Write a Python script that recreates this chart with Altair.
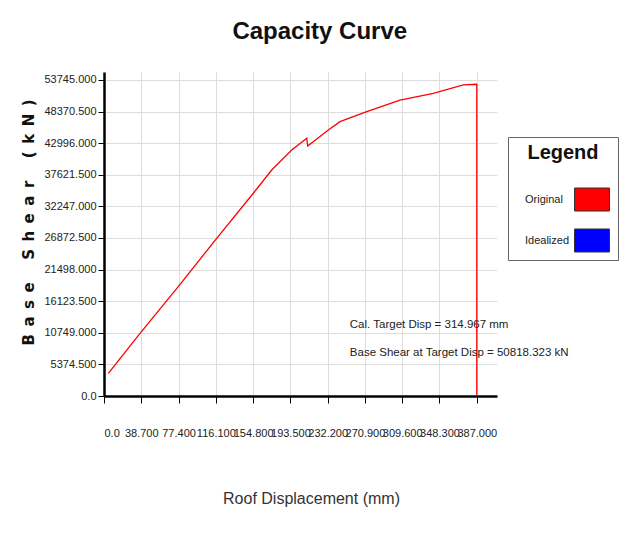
import altair as alt
import pandas as pd

# Capacity curve (Original)
disp = [4.5, 37.4, 77.1, 117.0, 155.0, 174.1, 194.9, 210.5, 211.5, 232.9, 245.0, 272.8, 307.3, 341.9, 373.0, 387.0, 387.0]
shear = [3861, 10664, 18590, 26821, 34475, 38438, 41840, 43830, 42520, 45241, 46652, 48353, 50300, 51483, 52895, 53014, 0]

series_names = ["Original", "Idealized"]
series_colors = ["#ff0000", "#0000ff"]

x_ticks = [0.0, 38.7, 77.4, 116.1, 154.8, 193.5, 232.2, 270.9, 309.6, 348.3, 387.0]
y_ticks = [0.0, 5374.5, 10749.0, 16123.5, 21498.0, 26872.5, 32247.0, 37621.5, 42996.0, 48370.5, 53745.0]

annot_text = ["Cal. Target Disp = 314.967 mm", "Base Shear at Target Disp = 50818.323 kN"]
annot_x = [255.2, 255.2]
annot_y = [12076, 7313]

NARROW = "Liberation Sans, Arial, sans-serif"

curve = pd.DataFrame({"disp": disp, "shear": shear, "series": ["Original"] * len(disp), "order": list(range(len(disp)))})
notes = pd.DataFrame({"x": annot_x, "y": annot_y, "t": annot_text})

xscale = alt.Scale(domain=[0, 408], nice=False, zero=False)
yscale = alt.Scale(domain=[0, 55100], nice=False, zero=False)
cscale = alt.Scale(domain=series_names, range=series_colors)

y_title = "\u2002".join("Base") + "\u2002\u2002\u2002" + "\u2002".join("Shear") + "\u2002\u2002\u2002" + "\u2002".join("(kN)")

line = alt.Chart(curve).mark_line(strokeWidth=1.3, clip=True, color=series_colors[0]).encode(
    x=alt.X("disp:Q", scale=xscale,
            axis=alt.Axis(values=x_ticks, tickCount=30, title="Roof Displacement (mm)",
                          labelExpr="datum.value == 0 ? '0.0' : format(datum.value, '.3f')",
                          labelOverlap=False, labelPadding=24, tickSize=7,
                          labelFont=NARROW, labelFontSize=11, labelColor="#222",
                          titleFont=NARROW, titleFontSize=16, titleFontWeight="normal",
                          titleColor="#333", titlePadding=52, titleX=207,
                          domainColor="#000", domainWidth=2.5, tickColor="#000",
                          gridColor="#dddddd", gridWidth=1)),
    y=alt.Y("shear:Q", scale=yscale,
            axis=alt.Axis(values=y_ticks, tickCount=30, title=y_title,
                          labelExpr="datum.value == 0 ? '0.0' : format(datum.value, '.3f')",
                          labelOverlap=False, labelPadding=2, tickSize=6,
                          labelFont=NARROW, labelFontSize=11, labelColor="#222",
                          titleFont="DejaVu Sans", titleFontSize=15, titleFontWeight="bold",
                          titleColor="#111", titlePadding=8, titleY=150,
                          domainColor="#000", domainWidth=2.5, tickColor="#000",
                          gridColor="#dddddd", gridWidth=1)),
    order="order:Q",
)

# empty layer that only carries the colour legend (filled swatches)
swatch = alt.Chart(curve).transform_filter("datum.disp < 0").mark_point(filled=True, size=4, opacity=1).encode(
    x=alt.X("disp:Q", scale=xscale),
    y=alt.Y("shear:Q", scale=yscale),
    color=alt.Color("series:N", scale=cscale,
                    legend=alt.Legend(
                        title="Legend", orient="none", legendX=404, legendY=65,
                        strokeColor="#666", fillColor="white", padding=6,
                        titleFont=NARROW, titleFontSize=20, titleFontWeight="bold",
                        titleColor="#111", titleAnchor="middle",
                        titlePadding=31,
                        labelFont=NARROW, labelFontSize=11, labelColor="#222",
                        labelOffset=0,
                        symbolType="M55,-11.5L90,-11.5L90,11.5L55,11.5Z", symbolSize=4,
                        symbolStrokeWidth=1, symbolStrokeColor="#333",
                        symbolOffset=0, rowPadding=14)),
)

text = alt.Chart(notes).mark_text(align="left", baseline="middle", font=NARROW,
                                  fontSize=11.5, color="#222").encode(
    x=alt.X("x:Q", scale=xscale), y=alt.Y("y:Q", scale=yscale), text="t:N")

chart = alt.layer(line, swatch, text).properties(
    width=393, height=324,
    title=alt.TitleParams("Capacity Curve", font=NARROW, fontSize=24, fontWeight="bold",
                          color="#111", anchor="middle", frame="bounds", offset=28),
    autosize=alt.AutoSizeParams(type="none"),
    padding={"left": 96, "top": 64, "right": 123, "bottom": 130},
).configure_view(strokeWidth=0)

chart.save("out.html", embed_options={"renderer": "svg", "actions": False})
